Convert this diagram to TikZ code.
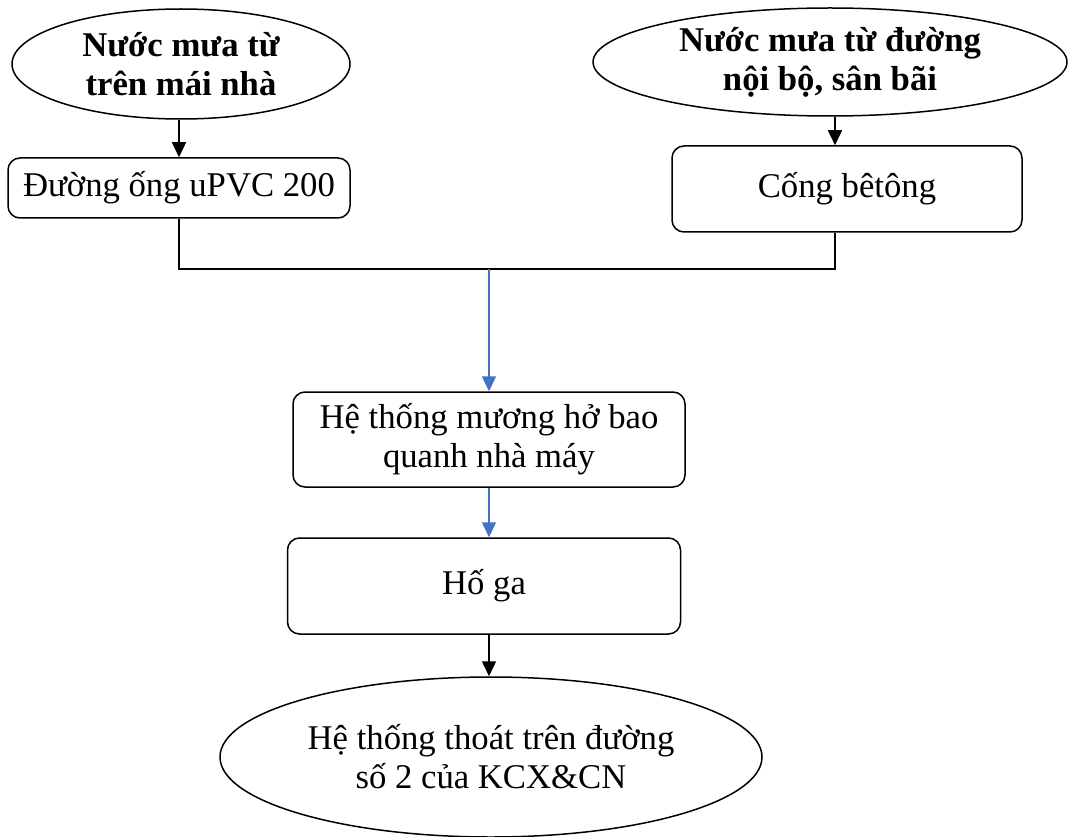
\documentclass[tikz,border=0pt]{standalone}
\usepackage{fontspec}
\setmainfont{Liberation Serif}
\usetikzlibrary{shapes.geometric,arrows.meta}
\definecolor{flowblue}{RGB}{68,114,196}
\begin{document}
\begin{tikzpicture}[x=1pt,y=-1pt,
  every node/.style={font=\fontsize{34.7}{39}\selectfont, align=center, inner sep=0pt},
  oval/.style={ellipse, draw, line width=1.5pt},
  roundbox/.style={rectangle, draw, rounded corners=12pt, line width=1.5pt},
  link/.style={line width=1.5pt},
  arr/.style={line width=1.5pt, -{Triangle[width=14pt,length=15pt]}},
  bluearr/.style={arr, draw=flowblue, color=flowblue}]
  \useasboundingbox (0,0) rectangle (1068,837);

  % sources
  \node[oval, minimum width=338pt, minimum height=110pt] (e1) at (181,64)
    {\bfseries Nước mưa từ\\\bfseries trên mái nhà};
  \node[oval, minimum width=474pt, minimum height=108pt] (e2) at (830,62)
    {\bfseries Nước mưa từ đường\\\bfseries nội bộ, sân bãi};

  % conveyance
  \node[roundbox, minimum width=342pt, minimum height=60pt] (b1) at (179,188)
    {Đường ống uPVC 200};
  \node[roundbox, minimum width=350pt, minimum height=86pt] (b2) at (847,189)
    {Cống bêtông};

  \node[roundbox, minimum width=392pt, minimum height=95pt] (b3) at (489,439.5)
    {Hệ thống mương hở bao\\quanh nhà máy};
  \node[roundbox, minimum width=393pt, minimum height=96pt] (b4) at (484,586)
    {Hố ga};

  \node[oval, minimum width=542pt, minimum height=160pt] (e3) at (491,757)
    {Hệ thống thoát trên đường\\số 2 của KCX\&CN};

  \coordinate (m) at (489,269);

  % connectors
  \draw[arr] (e1.south -| b1.south) -- (b1.north);
  \draw[arr] (e2.south -| 835,0) -- (835,0 |- b2.north);
  \draw[link] (b1.south) |- (m);
  \draw[link] (835,0 |- b2.south) |- (m);
  \draw[bluearr] (m) -- (b3.north);
  \draw[bluearr] (b3.south) -- (b3.south |- b4.north);
  \draw[arr] (b3.south |- b4.south) -- (b3.south |- e3.north);
\end{tikzpicture}
\end{document}
